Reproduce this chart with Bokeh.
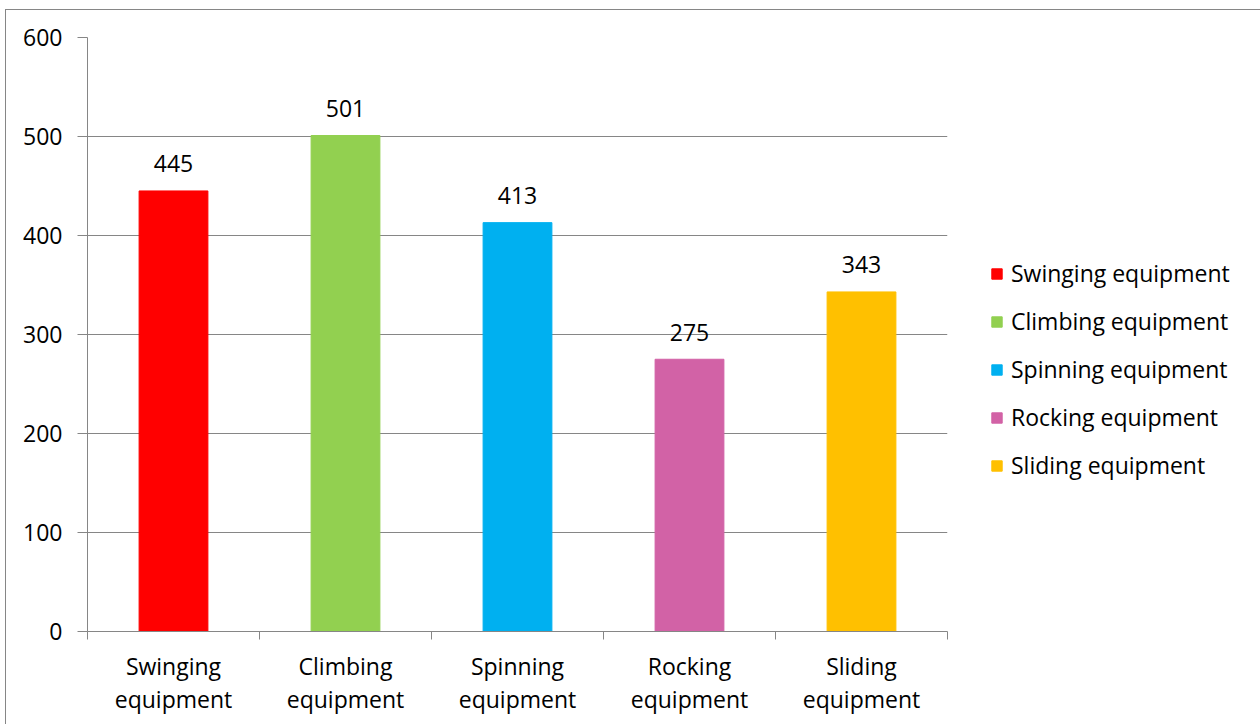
from bokeh.plotting import figure
from bokeh.models import (ColumnDataSource, FixedTicker, Range1d, Legend,
                          LegendItem)
from bokeh.core.properties import value
from bokeh.embed import file_html
from bokeh.resources import INLINE

categories = ["Swinging equipment", "Climbing equipment", "Spinning equipment",
              "Rocking equipment", "Sliding equipment"]
tick_labels = ["Swinging\nequipment", "Climbing\nequipment", "Spinning\nequipment",
               "Rocking\nequipment", "Sliding\nequipment"]
counts = [445, 501, 413, 275, 343]
colors = ["#FF0000", "#92D050", "#00B0F0", "#D262A6", "#FFC000"]
y_ticks = [0, 100, 200, 300, 400, 500, 600]

FONT = "Open Sans"
GRAY = "#868686"

xpos = [i + 0.5 for i in range(len(categories))]
src = ColumnDataSource(dict(x=xpos, top=counts, cat=categories, color=colors,
                            lbl=[str(c) for c in counts]))

p = figure(width=1253, height=714, output_backend="svg", toolbar_location=None,
           x_range=Range1d(0, len(categories)), y_range=Range1d(0, 600),
           frame_width=860, frame_height=594,
           min_border_left=81, min_border_top=27, min_border_right=312,
           min_border_bottom=93)
p.margin = (9, 1, 0, 5)
p.styles = {"border-left": "1px solid #868686", "border-top": "1px solid #868686",
            "border-right": "1px solid #868686"}
p.outline_line_color = None
p.background_fill_color = "white"
p.border_fill_color = "white"

r = p.vbar(x="x", top="top", width=0.4, color="color", source=src)

p.text(x="x", y="top", text="lbl", source=src, text_align="center",
       text_baseline="alphabetic", y_offset=-27, text_font=value(FONT),
       text_font_size="23px", text_color="black")

# y axis
p.yaxis.ticker = FixedTicker(ticks=y_ticks)
p.yaxis.axis_line_color = GRAY
p.yaxis.major_tick_line_color = GRAY
p.yaxis.major_tick_out = 10
p.yaxis.major_tick_in = 0
p.yaxis.minor_tick_line_color = None
p.yaxis.major_label_text_font = FONT
p.yaxis.major_label_text_font_size = "23px"
p.yaxis.major_label_text_color = "black"
p.yaxis.major_label_standoff = 15

# x axis: labels at centers, ticks at boundaries
p.xaxis.ticker = FixedTicker(ticks=xpos, minor_ticks=list(range(len(categories) + 1)))
p.xaxis.major_label_overrides = {x: t for x, t in zip(xpos, tick_labels)}
p.xaxis.axis_line_color = GRAY
p.xaxis.major_tick_line_color = None
p.xaxis.major_tick_out = 8
p.xaxis.minor_tick_line_color = GRAY
p.xaxis.minor_tick_out = 8
p.xaxis.minor_tick_in = 0
p.xaxis.major_label_text_font = FONT
p.xaxis.major_label_text_font_size = "23px"
p.xaxis.major_label_text_color = "black"
p.xaxis.major_label_text_line_height = 1.05
p.xaxis.major_label_standoff = 10

p.xgrid.grid_line_color = None
p.ygrid.grid_line_color = GRAY
p.ygrid.ticker = FixedTicker(ticks=y_ticks)

items = [LegendItem(label=c, renderers=[r], index=i) for i, c in enumerate(categories)]
leg = Legend(items=items, location=(43, 150))
leg.border_line_color = None
leg.background_fill_alpha = 0
leg.padding = 0
leg.margin = 0
leg.glyph_width = 13
leg.glyph_height = 13
leg.label_standoff = 8
leg.label_text_font = FONT
leg.label_text_font_size = "23px"
leg.label_text_color = "black"
leg.label_height = 24
leg.spacing = 16
p.add_layout(leg, "right")

open("out.html", "w").write(file_html(p, INLINE))
